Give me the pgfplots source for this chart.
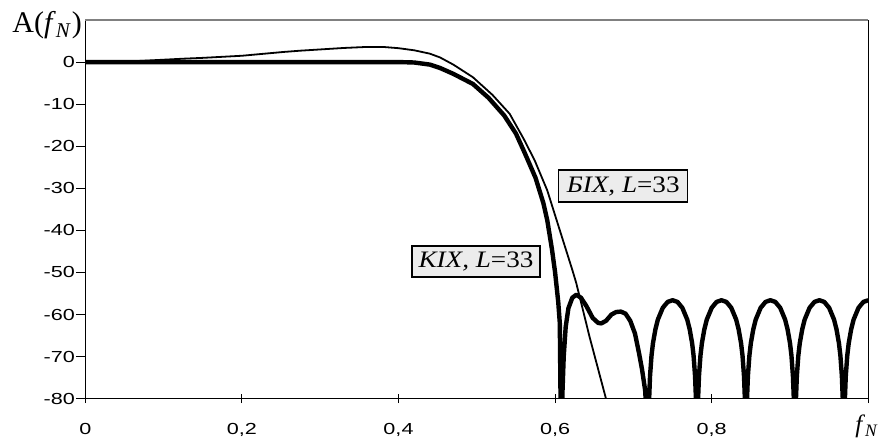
\documentclass[border=0pt]{standalone}
\usepackage{fontspec}
\setmainfont{Liberation Serif}
\newfontfamily\arialwide[FakeStretch=1.35]{Liberation Sans}
\newfontfamily\serifwide[FakeStretch=1.15]{Liberation Serif}
\usepackage{pgfplots}
\pgfplotsset{compat=1.18}
\definecolor{boxgray}{RGB}{236,236,236}
\definecolor{topgray}{RGB}{128,128,128}
\begin{document}
\begin{tikzpicture}
\useasboundingbox (-42.65pt,-22.15pt) rectangle (399.85pt,199.35pt);
\begin{axis}[
  at={(0,0)}, anchor=south west,
  scale only axis, width=391.5pt, height=189.35pt,
  xmin=0, xmax=1, ymin=-80, ymax=10,
  axis lines*=left,
  axis line style={-, black, line width=0.6pt},
  xtick={0,0.2,0.4,0.6,0.8,1},
  xticklabels={0,{0,2},{0,4},{0,6},{0,8},{}},
  ytick={-80,-70,-60,-50,-40,-30,-20,-10,0},
  yticklabels={-80,-70,-60,-50,-40,-30,-20,-10,0},
  xtick align=center, ytick align=outside,
  major tick length=4.5pt,
  tick style={black, line width=0.5pt},
  ticklabel style={font=\arialwide\fontsize{8}{9}\selectfont},
  xticklabel style={yshift=-6.3pt},
  yticklabel style={xshift=2.8pt},
  clip=true,
]
% BIX (thin)
\addplot[black, line width=0.9pt, line join=round] coordinates {
(0,0) (0.05,0.1) (0.083,0.4) (0.125,0.8) (0.15,1.0) (0.2,1.5) (0.253,2.4)
(0.274,2.7) (0.3,3.0) (0.33,3.35) (0.36,3.6) (0.38,3.6) (0.4,3.3)
(0.42,2.8) (0.44,2.0) (0.453,1.1) (0.47,-0.6) (0.495,-3.6) (0.52,-7.8)
(0.542,-12.3) (0.56,-18.3) (0.574,-23.4) (0.59,-30.5) (0.602,-37.6)
(0.612,-43.5) (0.622,-49.4) (0.627,-52.5) (0.635,-58.5) (0.644,-65.3)
(0.655,-73) (0.665,-80) (0.67,-84)
};
% KIX (thick)
\addplot[black, line width=2.2pt, line join=round] coordinates {
(0,0) (0.1,0) (0.2,0) (0.3,0) (0.4,0) (0.42,-0.1) (0.44,-0.6) (0.453,-1.4)
(0.47,-2.8) (0.495,-5.2) (0.515,-8.5) (0.535,-12.7) (0.55,-17) (0.561,-21.5)
(0.575,-27.5) (0.585,-33.5) (0.59,-37.6) (0.596,-44.5) (0.6,-50) (0.604,-57)
(0.606,-62) (0.6075,-90)
(0.6085,-90) (0.6095,-78) (0.611,-70) (0.6135,-63) (0.617,-58.5) (0.622,-56)
(0.627,-55.3) (0.633,-56) (0.64,-58) (0.648,-60.8) (0.655,-62) (0.659,-62.1)
(0.665,-61.5) (0.672,-60) (0.678,-59.4) (0.684,-59.3) (0.69,-59.8)
(0.696,-61.5) (0.702,-64.5) (0.707,-69) (0.711,-73) (0.715,-78) (0.71875,-90)
(0.72,-80.6) (0.72125,-74.6) (0.723125,-69.8) (0.725,-66.8) (0.728125,-63.5)
(0.73125,-61.2) (0.7375,-58.4) (0.74375,-57.0) (0.75,-56.6) (0.75625,-57.0)
(0.7625,-58.4) (0.76875,-61.2) (0.771875,-63.5) (0.775,-66.8) (0.776875,-69.8)
(0.77875,-74.6) (0.78,-80.6) (0.78125,-90)
(0.7825,-80.6) (0.78375,-74.6) (0.785625,-69.8) (0.7875,-66.8) (0.790625,-63.5)
(0.79375,-61.2) (0.8,-58.4) (0.80625,-57.0) (0.8125,-56.6) (0.81875,-57.0)
(0.825,-58.4) (0.83125,-61.2) (0.834375,-63.5) (0.8375,-66.8) (0.839375,-69.8)
(0.84125,-74.6) (0.8425,-80.6) (0.84375,-90)
(0.845,-80.6) (0.84625,-74.6) (0.848125,-69.8) (0.85,-66.8) (0.853125,-63.5)
(0.85625,-61.2) (0.8625,-58.4) (0.86875,-57.0) (0.875,-56.6) (0.88125,-57.0)
(0.8875,-58.4) (0.89375,-61.2) (0.896875,-63.5) (0.9,-66.8) (0.901875,-69.8)
(0.90375,-74.6) (0.905,-80.6) (0.90625,-90)
(0.9075,-80.6) (0.90875,-74.6) (0.910625,-69.8) (0.9125,-66.8) (0.915625,-63.5)
(0.91875,-61.2) (0.925,-58.4) (0.93125,-57.0) (0.9375,-56.6) (0.94375,-57.0)
(0.95,-58.4) (0.95625,-61.2) (0.959375,-63.5) (0.9625,-66.8) (0.964375,-69.8)
(0.96625,-74.6) (0.9675,-80.6) (0.96875,-90)
(0.97,-80.6) (0.97125,-74.6) (0.973125,-69.8) (0.975,-66.8) (0.978125,-63.5)
(0.98125,-61.2) (0.9875,-58.4) (0.99375,-57.0) (1.0,-56.6)
};
\node[draw=black, fill=boxgray, line width=0.7pt, minimum width=64.5pt,
  minimum height=16pt, inner sep=0pt, font=\serifwide\fontsize{11.8}{12}\selectfont]
  at (axis cs:0.687,-29.5) {\textit{БІХ, L}=33};
\node[draw=black, fill=boxgray, line width=0.7pt, minimum width=64pt,
  minimum height=15.5pt, inner sep=0pt, font=\serifwide\fontsize{11.8}{12}\selectfont]
  at (axis cs:0.499,-47.4) {\textit{КІХ, L}=33};
\end{axis}
\draw[topgray, line width=0.6pt] (0,189.35pt) -- (391.5pt,189.35pt);
\draw[black, line width=0.6pt] (391.5pt,0) -- (391.5pt,189.35pt);
\node[anchor=base west, inner sep=0pt, font=\fontsize{15}{18}\selectfont]
  at (-36.65pt,182.85pt) {A(\textit{f}\textsubscript{\textit{N}})};
\node[anchor=base west, inner sep=0pt, font=\fontsize{12.5}{15}\selectfont]
  at (384.85pt,-17.15pt) {\textit{f}\textsubscript{\textit{N}}};
\end{tikzpicture}
\end{document}
